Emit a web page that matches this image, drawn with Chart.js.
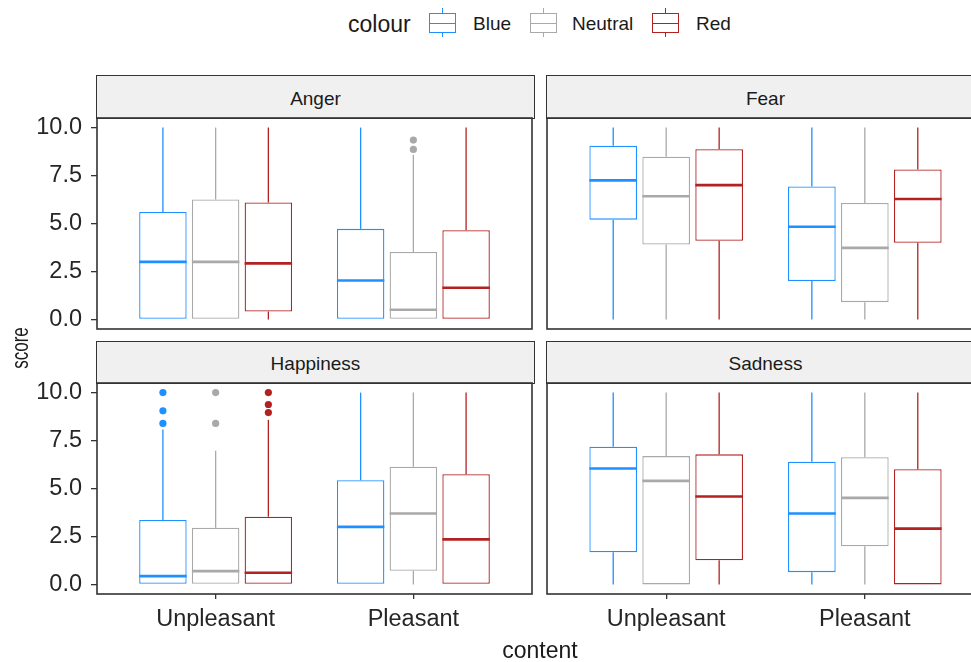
<!DOCTYPE html>
<html>
<head>
<meta charset="utf-8">
<title>score by content and colour</title>
<script src="https://cdn.jsdelivr.net/npm/chart.js@4/dist/chart.umd.min.js"></script>
<style>
  html, body { margin: 0; padding: 0; background: #fff; }
  #page {
    position: relative; width: 971px; height: 662px; overflow: hidden;
    font-family: "Liberation Sans", Arial, sans-serif; color: #1a1a1a;
  }
  canvas { position: absolute; }
  .strip {
    position: absolute; box-sizing: border-box;
    background: #f0f0f0; border: 1.6px solid #333;
    display: flex; align-items: center; justify-content: center;
    font-size: 19px; padding-top: 4px;
  }
  .txt { position: absolute; white-space: nowrap; }
  .key { position: absolute; width: 27px; height: 30px; }
  .key .box { position: absolute; left: 0; top: 5px; width: 27px; height: 20px; box-sizing: border-box; border: 1.3px solid; }
  .key .med { position: absolute; left: 0; top: 14.5px; width: 27px; height: 1.3px; }
  .key .wt { position: absolute; left: 13px; top: 0; width: 1.3px; height: 5px; }
  .key .wb { position: absolute; left: 13px; top: 25px; width: 1.3px; height: 3.5px; }
</style>
</head>
<body>
<div id="page">
  <div class="txt" style="left:348px; top:9px; font-size:23px; line-height:30px;">colour</div>
  <div id="legendKeys"></div>

  <div class="strip" style="left:96.2px; top:75.2px; width:438.6px; height:43.6px;">Anger</div>
  <div class="strip" style="left:546.2px; top:75.2px; width:438.6px; height:43.6px;">Fear</div>
  <div class="strip" style="left:96.2px; top:341.2px; width:438.6px; height:42.6px;">Happiness</div>
  <div class="strip" style="left:546.2px; top:341.2px; width:438.6px; height:42.6px;">Sadness</div>

  <canvas id="cAnger" width="536" height="251" style="left:0px; top:98px;"></canvas>
  <canvas id="cFear" width="441" height="251" style="left:545px; top:98px;"></canvas>
  <canvas id="cHappiness" width="536" height="301" style="left:0px; top:363px;"></canvas>
  <canvas id="cSadness" width="441" height="301" style="left:545px; top:363px;"></canvas>

  <div class="txt" style="left:-30px; top:333px; width:100px; height:30px; line-height:30px; text-align:center; font-size:23px; transform:rotate(-90deg) scaleX(0.74);">score</div>
  <div class="txt" style="left:440px; top:635px; width:200px; height:30px; line-height:30px; text-align:center; font-size:23px;">content</div>
</div>

<script>
// x categories, colour groups and y tick marks
const contents = ['Unpleasant', 'Pleasant'];
const colours = ['Blue', 'Neutral', 'Red'];
const colourHex = ['#1E90FF', '#A9A9A9', '#B22222'];
const yTicks = [0, 2.5, 5, 7.5, 10];

// Five-number summaries [lower whisker, Q1, median, Q3, upper whisker]
// rows: Blue, Neutral, Red; columns: Unpleasant, Pleasant
const anger = [
  [[0, 0, 3.0, 5.6, 10], [0, 0, 2.03, 4.72, 10]],
  [[0, 0, 3.0, 6.25, 10], [0, 0, 0.5, 3.52, 8.57]],
  [[0, 0.41, 2.92, 6.1, 10], [0, 0, 1.65, 4.65, 10]]
];
const fear = [
  [[0, 5.2, 7.25, 9.05, 10], [0, 2.0, 4.83, 6.93, 10]],
  [[0, 3.9, 6.42, 8.48, 10], [0, 0.9, 3.73, 6.07, 10]],
  [[0, 4.1, 7.0, 8.87, 10], [0, 4.0, 6.28, 7.82, 10]]
];
const happiness = [
  [[0, 0, 0.43, 3.36, 8.08], [0, 0, 3.0, 5.43, 10]],
  [[0, 0, 0.69, 2.95, 6.97], [0, 0.71, 3.7, 6.14, 10]],
  [[0, 0, 0.61, 3.53, 8.58], [0, 0, 2.35, 5.74, 10]]
];
const sadness = [
  [[0, 1.68, 6.04, 7.18, 10], [0, 0.64, 3.7, 6.4, 10]],
  [[0, 0, 5.4, 6.69, 10], [0, 1.99, 4.51, 6.63, 10]],
  [[0, 1.26, 4.58, 6.78, 10], [0, 0, 2.91, 6.0, 10]]
];

// Outlying scores beyond the whiskers (same row/column layout)
const angerOutliers = [[[], []], [[], [8.86, 9.35]], [[], []]];
const fearOutliers = [[[], []], [[], []], [[], []]];
const happinessOutliers = [[[8.39, 9.05, 10], []], [[8.39, 10], []], [[8.96, 9.38, 10], []]];
const sadnessOutliers = [[[], []], [[], []], [[], []]];

const FONT = '"Liberation Sans", Arial, sans-serif';
const CAT_PCT = 0.8;            // share of one category slot used by the dodged group
const SLOT = CAT_PCT / colours.length;

Chart.defaults.font.family = FONT;

// legend keys (boxplot glyphs) with their labels
const keyLeft = [429, 530, 652];
const labelLeft = [473, 572, 696];
const legendKeys = document.getElementById('legendKeys');
colours.forEach((name, i) => {
  const c = colourHex[i];
  legendKeys.insertAdjacentHTML('beforeend',
    `<div class="key" style="left:${keyLeft[i]}px; top:8px;">
       <div class="wt" style="background:${c}"></div>
       <div class="box" style="border-color:${c}"></div>
       <div class="med" style="background:${c}"></div>
       <div class="wb" style="background:${c}"></div>
     </div>
     <div class="txt" style="left:${labelLeft[i]}px; top:9px; font-size:19px; line-height:29px;">${name}</div>`);
});

// whiskers under the boxes, medians over them, panel frame on top
const boxPlot = {
  id: 'boxPlot',
  beforeDatasetsDraw(chart) {
    const ctx = chart.ctx, y = chart.scales.y;
    ctx.save();
    chart.data.datasets.forEach((ds, i) => {
      if (!ds.stats) return;
      ctx.strokeStyle = ds.borderColor;
      ctx.lineWidth = 1.3;
      chart.getDatasetMeta(i).data.forEach((bar, j) => {
        const [lo, q1, , q3, hi] = ds.stats[j];
        ctx.beginPath();
        ctx.moveTo(bar.x, y.getPixelForValue(hi));
        ctx.lineTo(bar.x, y.getPixelForValue(q3));
        ctx.moveTo(bar.x, y.getPixelForValue(q1));
        ctx.lineTo(bar.x, y.getPixelForValue(lo));
        ctx.stroke();
      });
    });
    ctx.restore();
  },
  afterDatasetsDraw(chart) {
    const ctx = chart.ctx, y = chart.scales.y;
    ctx.save();
    chart.data.datasets.forEach((ds, i) => {
      if (!ds.stats) return;
      ctx.strokeStyle = ds.borderColor;
      ctx.lineWidth = 2.6;
      chart.getDatasetMeta(i).data.forEach((bar, j) => {
        const py = y.getPixelForValue(ds.stats[j][2]);
        ctx.beginPath();
        ctx.moveTo(bar.x - bar.width / 2, py);
        ctx.lineTo(bar.x + bar.width / 2, py);
        ctx.stroke();
      });
    });
    ctx.restore();
  },
  afterDraw(chart) {
    const ctx = chart.ctx, a = chart.chartArea;
    ctx.save();
    ctx.strokeStyle = '#333';
    ctx.lineWidth = 1.6;
    ctx.strokeRect(a.left, a.top, a.right - a.left, a.bottom - a.top);
    ctx.restore();
  }
};

// fixed axis band sizes, with no extra room reserved for label overhang
function fixBand(size, dim) {
  return s => {
    if (s.options.display) s[dim] = size;
    s.paddingTop = 0; s.paddingBottom = 0; s.paddingLeft = 0; s.paddingRight = 0;
  };
}

function facet(id, stats, outliers, showX, showY) {
  const datasets = [];
  colours.forEach((name, c) => {
    datasets.push({
      type: 'bar',
      label: name,
      stats: stats[c],
      data: contents.map((_, j) => ({ x: j + 1, y: [stats[c][j][1], stats[c][j][3]] })),
      backgroundColor: '#ffffff',
      borderColor: colourHex[c],
      borderWidth: 1.3,
      borderSkipped: false,
      categoryPercentage: CAT_PCT,
      barPercentage: 0.9,
      grouped: true
    });
  });
  colours.forEach((name, c) => {
    const pts = [];
    contents.forEach((_, j) => outliers[c][j].forEach(v => pts.push({ x: j + 1 + (c - 1) * SLOT, y: v })));
    datasets.push({
      type: 'scatter',
      label: name + ' outliers',
      data: pts,
      pointRadius: 3.6,
      pointBorderWidth: 0,
      pointBackgroundColor: colourHex[c],
      pointBorderColor: colourHex[c]
    });
  });

  return new Chart(document.getElementById(id), {
    type: 'bar',
    data: { datasets },
    plugins: [boxPlot],
    options: {
      responsive: false,
      animation: false,
      events: [],
      layout: { padding: { left: 2, right: 2, top: 20, bottom: 20 } },
      plugins: { legend: { display: false }, tooltip: { enabled: false } },
      scales: {
        x: {
          type: 'linear', min: 0.4, max: 2.6, offset: false, display: showX,
          afterBuildTicks: s => { s.ticks = contents.map((_, j) => ({ value: j + 1 })); },
          afterFit: fixBand(50, 'height'),
          ticks: {
            autoSkip: false, maxRotation: 0, padding: 6,
            color: '#262626', font: { size: 23.5, family: FONT },
            callback: v => contents[Math.round(v) - 1]
          },
          grid: { drawOnChartArea: false, drawTicks: true, tickLength: 5, color: '#333', lineWidth: 1.3, offset: false },
          border: { display: false }
        },
        y: {
          type: 'linear', min: -0.5, max: 10.5, display: showY,
          afterBuildTicks: s => { s.ticks = yTicks.map(v => ({ value: v })); },
          afterFit: fixBand(95, 'width'),
          ticks: {
            padding: 9, color: '#262626', font: { size: 23.5, family: FONT },
            callback: v => Number(v).toFixed(1)
          },
          grid: { drawOnChartArea: false, drawTicks: true, tickLength: 6, color: '#333', lineWidth: 1.3 },
          border: { display: false }
        }
      }
    }
  });
}

facet('cAnger', anger, angerOutliers, false, true);
facet('cFear', fear, fearOutliers, false, false);
facet('cHappiness', happiness, happinessOutliers, true, true);
facet('cSadness', sadness, sadnessOutliers, true, false);
</script>
</body>
</html>
